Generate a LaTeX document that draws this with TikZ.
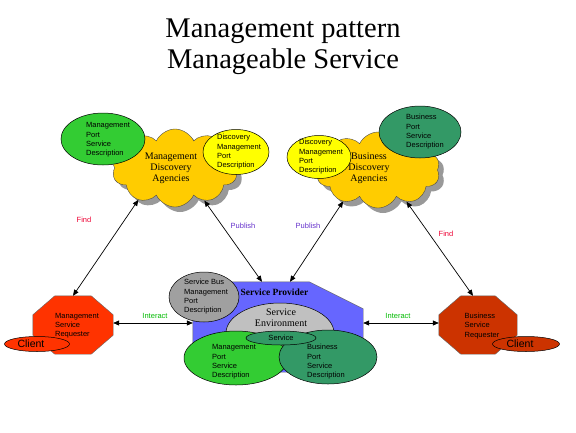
\documentclass[tikz,border=0pt]{standalone}
\usepackage{fontspec}
\setmainfont{Liberation Serif}
\setsansfont{Liberation Sans}
\usetikzlibrary{shapes.geometric,shapes.symbols,arrows.meta}
\definecolor{cloudy}{HTML}{FFCC00}
\definecolor{shadowgray}{HTML}{999999}
\definecolor{greenA}{HTML}{33CC33}
\definecolor{greenD}{HTML}{339966}
\definecolor{yellowE}{HTML}{FFFF00}
\definecolor{redL}{HTML}{FF3300}
\definecolor{redR}{HTML}{CC3300}
\definecolor{blueSP}{HTML}{6666FF}
\definecolor{grayEnv}{HTML}{C0C0C0}
\definecolor{grayBus}{HTML}{A0A0A0}
\definecolor{findred}{HTML}{EE0033}
\definecolor{pubpurple}{HTML}{6633CC}
\definecolor{intgreen}{HTML}{00BB00}
\tikzset{
  cloudbase/.style={cloud, cloud puffs=10, cloud puff arc=130, inner sep=0pt},
  ell/.style={ellipse, draw=black, line width=0.5pt, inner sep=0pt},
  elltxt/.style={font=\sffamily\fontsize{7.5}{9.3}\selectfont, align=left, inner sep=0pt},
  cloudtxt/.style={font=\fontsize{10}{11}\selectfont, align=center, inner sep=0pt},
  anchorbox/.style={rectangle, draw=none, inner sep=0pt},
  outline/.style={draw=black!60, line width=0.4pt},
  conn/.style={{Triangle[length=6pt,width=5pt]}-{Triangle[length=6pt,width=5pt]}, line width=0.7pt},
  lbl/.style={font=\sffamily\fontsize{7.5}{9}\selectfont, inner sep=0pt},
  clienttxt/.style={font=\sffamily\fontsize{10.5}{12}\selectfont, inner sep=0pt},
}
\begin{document}
\begin{tikzpicture}[x=1pt,y=-1pt]
\fill[white] (0,0) rectangle (576,432);
\useasboundingbox (0,0) rectangle (576,432);

% title
\node[font=\fontsize{28.5}{31}\selectfont, align=center] (title) at (283,47) {Management pattern\\Manageable Service};

% clouds
\node[cloudbase, fill=shadowgray, minimum width=126pt, minimum height=78pt] (lcloudsh) at (180,173) {};
\node[cloudbase, fill=cloudy, draw=black!70, minimum width=126pt, minimum height=78pt] (lcloud) at (175,168) {};
\node[cloudtxt] (lcloudt) at (171,168) {Management\\Discovery\\Agencies};

\node[cloudbase, fill=shadowgray, minimum width=124pt, minimum height=76pt] (rcloudsh) at (383,175) {};
\node[cloudbase, fill=cloudy, draw=black!70, minimum width=124pt, minimum height=76pt] (rcloud) at (378,170) {};
\node[cloudtxt] (rcloudt) at (369,168) {Business\\Discovery\\Agencies};

% ellipses around clouds
\node[ell, fill=greenA, minimum width=84pt, minimum height=52pt] (mpsdA) at (103,139) {};
\node[elltxt] (mpsdAt) at (108,140) {Management\\Port\\Service\\Description};

\node[ell, fill=yellowE, minimum width=66pt, minimum height=45pt] (dmpdL) at (236,152) {};
\node[elltxt] (dmpdLt) at (239,152) {Discovery\\Management\\Port\\Description};

\node[ell, fill=yellowE, minimum width=64pt, minimum height=43pt] (dmpdR) at (319,157) {};
\node[elltxt] (dmpdRt) at (321,157) {Discovery\\Management\\Port\\Description};

\node[ell, fill=greenD, minimum width=82pt, minimum height=52pt] (bpsdA) at (420,132) {};
\node[elltxt] (bpsdAt) at (425,132) {Business\\Port\\Service\\Description};

% requesters (octagons)
\node[anchorbox, minimum width=80pt, minimum height=58pt] (loct) at (73,325) {};
\filldraw[fill=redL, outline]
  ([xshift=22pt]loct.north west) -- ([xshift=-22pt]loct.north east) -- ([yshift=-19pt]loct.north east)
  -- ([yshift=19pt]loct.south east) -- ([xshift=-22pt]loct.south east) -- ([xshift=22pt]loct.south west)
  -- ([yshift=19pt]loct.south west) -- ([yshift=-19pt]loct.north west) -- cycle;
\node[elltxt] (loctt) at (77,325.5) {Management\\Service\\Requester};
\node[ell, fill=redL, minimum width=65pt, minimum height=15pt] (lclient) at (37,344) {};
\node[clienttxt] (lclientt) at (31,344) {Client};

\node[anchorbox, minimum width=78pt, minimum height=58pt] (roct) at (478,325) {};
\filldraw[fill=redR, outline]
  ([xshift=22pt]roct.north west) -- ([xshift=-22pt]roct.north east) -- ([yshift=-19pt]roct.north east)
  -- ([yshift=19pt]roct.south east) -- ([xshift=-22pt]roct.south east) -- ([xshift=22pt]roct.south west)
  -- ([yshift=19pt]roct.south west) -- ([yshift=-19pt]roct.north west) -- cycle;
\node[elltxt] (roctt) at (482,326) {Business\\Service\\Requester};
\node[ell, fill=redR, minimum width=67pt, minimum height=15pt] (rclient) at (526,344) {};
\node[clienttxt] (rclientt) at (520,344) {Client};

% service provider
\node[anchorbox, minimum width=170pt, minimum height=90pt] (sp) at (278,327) {};
\filldraw[fill=blueSP, outline]
  ([yshift=-20pt]sp.north west) -- ([xshift=22pt]sp.north west) -- ([xshift=-54pt]sp.north east)
  -- ([yshift=-27pt]sp.north east) -- ([yshift=26pt]sp.south east) -- ([xshift=-54pt]sp.south east)
  -- ([xshift=22pt]sp.south west) -- ([yshift=20pt]sp.south west) -- cycle;
\node[font=\bfseries\fontsize{9.5}{11}\selectfont, inner sep=0pt] (spt) at (274.5,292) {Service Provider};

\node[ell, fill=grayBus, minimum width=70pt, minimum height=50pt] (sbus) at (204,297) {};
\node[elltxt] (sbust) at (206,297) {Service Bus\\Management\\Port\\Description};

\node[ell, fill=grayEnv, minimum width=108pt, minimum height=60pt] (env) at (280,333) {};
\node[cloudtxt] (envt) at (281,317.5) {Service\\Environment};

\node[ell, fill=greenA, minimum width=104pt, minimum height=54pt] (mpsdB) at (236,358) {};
\node[elltxt] (mpsdBt) at (234,362) {Management\\Port\\Service\\Description};

\node[ell, fill=greenD, minimum width=98pt, minimum height=54pt] (bpsdB) at (328,357) {};
\node[elltxt] (bpsdBt) at (326,362) {Business\\Port\\Service\\Description};

\node[ell, fill=greenD, minimum width=70pt, minimum height=14pt, font=\sffamily\fontsize{7.5}{9}\selectfont] (svc) at (281,338) {Service};

% connectors
\draw[conn] (loct.north) -- (lcloud.221);
\draw[conn] ([xshift=-16pt]sp.north) -- (lcloud.312);
\draw[conn] ([xshift=12pt]sp.north) -- (rcloud.222);
\draw[conn] (rcloud.312) -- ([xshift=-5pt]roct.north);
\draw[conn] ([yshift=2pt]loct.east) -- ([yshift=2pt]loct.east -| sp.west);
\draw[conn] ([yshift=2pt]roct.west -| sp.east) -- ([yshift=2pt]roct.west);

% connector labels
\node[lbl, text=findred] (find1) at (84,220) {Find};
\node[lbl, text=pubpurple] (pub1) at (243,226) {Publish};
\node[lbl, text=pubpurple] (pub2) at (308,226) {Publish};
\node[lbl, text=findred] (find2) at (446,234) {Find};
\node[lbl, text=intgreen] (int1) at (155,316) {Interact};
\node[lbl, text=intgreen] (int2) at (398,316) {Interact};
\end{tikzpicture}
\end{document}
